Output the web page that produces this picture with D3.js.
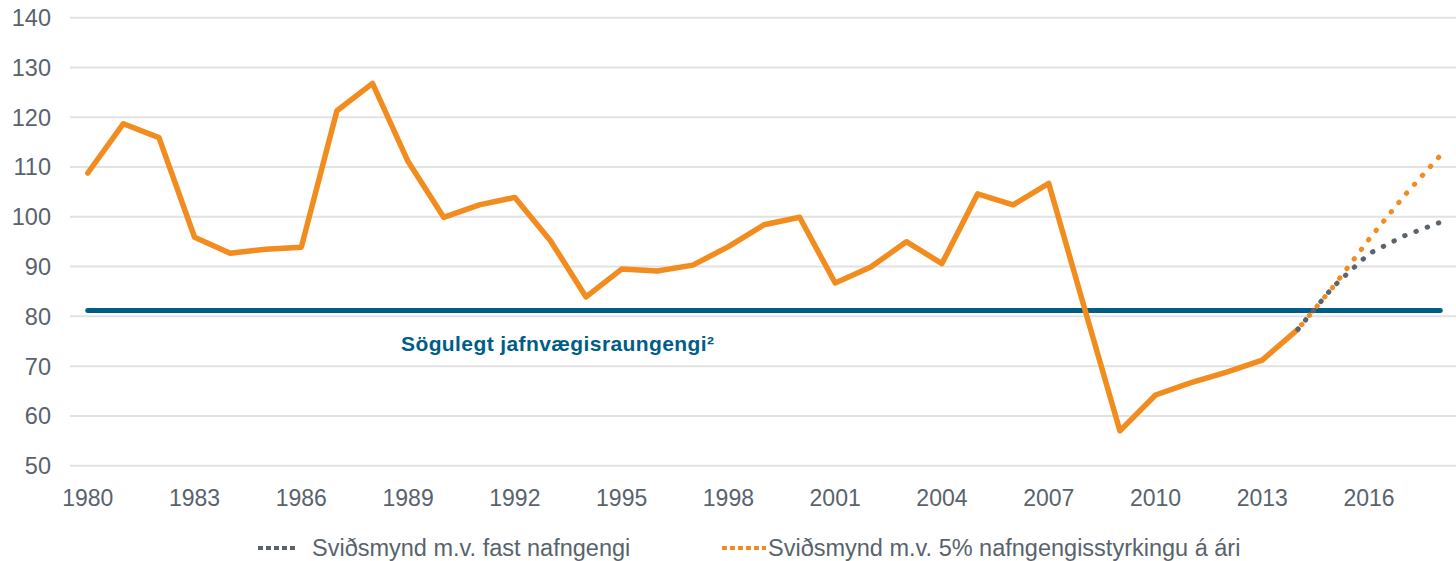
<!DOCTYPE html>
<html>
<head>
<meta charset="utf-8">
<script src="https://cdn.jsdelivr.net/npm/d3@7"></script>
<style>
  body { margin: 0; background: #fff; }
  svg { display: block; font-family: 'Liberation Sans', Arial, sans-serif; }
</style>
</head>
<body>
<div id="chart"></div>
<script>
// data
const years = d3.range(1980, 2019)
const histYears = d3.range(1980, 2015)
const histValues = [108.8, 118.7, 115.9, 95.9, 92.7, 93.5, 93.9, 121.3, 126.8, 111.1,
    99.9, 102.4, 103.9, 95.2, 83.9, 89.5, 89.1, 90.3, 94.0, 98.4,
    99.9, 86.7, 89.9, 95.0, 90.6, 104.6, 102.4, 106.7, 81.8, 57.0,
    64.2, 66.7, 68.8, 71.2, 77.4]
const scenYears = [2014, 2015, 2016, 2017, 2018]
const fixedValues = [77.4, 86.0, 92.6, 96.2, 98.9]
const strongValues = [77.4, 86.0, 95.5, 104.3, 112.3]
const equilibrium = 81.2
const yTicks = [50, 60, 70, 80, 90, 100, 110, 120, 130, 140]
const xTicks = d3.range(1980, 2017, 3)
const legendLabels = ['Sviðsmynd m.v. fast nafngengi', 'Sviðsmynd m.v. 5% nafngengisstyrkingu á ári']

const W = 1456, H = 561
const orange = '#f28c1f', blue = '#005d85', gray = '#5b646d', textCol = '#58636d'

const svg = d3.select('#chart').append('svg').attr('width', W).attr('height', H)

const x = d3.scalePoint().domain(years).range([70, 1458]).padding(0.5)
const y = d3.scaleLinear().domain([50, 140]).range([465.7, 17.7])

// grid
svg.append('g')
    .selectAll('line')
    .data(yTicks)
    .enter()
    .append('line')
    .attr('x1', 70).attr('x2', W)
    .attr('y1', d => y(d)).attr('y2', d => y(d))
    .attr('stroke', '#e2e2e2')
    .attr('stroke-width', 2)

// y labels
svg.append('g')
    .selectAll('text')
    .data(yTicks)
    .enter()
    .append('text')
    .attr('x', 51)
    .attr('y', d => y(d))
    .attr('dy', '0.36em')
    .attr('text-anchor', 'end')
    .attr('fill', textCol)
    .style('font-size', '23.5px')
    .text(d => d)

// x labels
svg.append('g')
    .selectAll('text')
    .data(xTicks)
    .enter()
    .append('text')
    .attr('x', d => x(d))
    .attr('y', 506)
    .attr('text-anchor', 'middle')
    .attr('fill', textCol)
    .style('font-size', '23px')
    .text(d => d)

const line = d3.line().x(d => x(d[0])).y(d => y(d[1]))

// equilibrium
svg.append('path')
    .attr('d', line([[1980, equilibrium], [2018, equilibrium]]))
    .attr('fill', 'none')
    .attr('stroke', blue)
    .attr('stroke-width', 5)
    .attr('stroke-linecap', 'round')

svg.append('text')
    .attr('x', 401)
    .attr('y', 351)
    .attr('fill', blue)
    .style('font-size', '21px')
    .style('font-weight', 'bold')
    .style('letter-spacing', '0.4px')
    .text('Sögulegt jafnvægisraungengi²')

// history
svg.append('path')
    .attr('d', line(histYears.map((yr, i) => [yr, histValues[i]])))
    .attr('fill', 'none')
    .attr('stroke', orange)
    .attr('stroke-width', 5.5)
    .attr('stroke-linejoin', 'round')
    .attr('stroke-linecap', 'round')

// scenarios
const scen = [
    { vals: fixedValues, col: gray, offset: 0 },
    { vals: strongValues, col: orange, offset: 6 }
]
scen.forEach(s => {
    svg.append('path')
        .attr('d', line(scenYears.map((yr, i) => [yr, s.vals[i]])))
        .attr('fill', 'none')
        .attr('stroke', s.col)
        .attr('stroke-width', 5)
        .attr('stroke-linecap', 'round')
        .attr('stroke-dasharray', '0.5 11.5')
        .attr('stroke-dashoffset', s.offset)
})

// legend
const legendPos = [{ x1: 258, x2: 298, tx: 312 }, { x1: 722, x2: 766, tx: 768 }]
legendLabels.forEach((lab, i) => {
    const p = legendPos[i]
    svg.append('line')
        .attr('x1', p.x1).attr('x2', p.x2)
        .attr('y1', 548).attr('y2', 548)
        .attr('stroke', scen[i].col)
        .attr('stroke-width', 4)
        .attr('stroke-dasharray', '5 3')
    svg.append('text')
        .attr('x', p.tx)
        .attr('y', 556)
        .attr('fill', textCol)
        .style('font-size', '23.5px')
        .text(lab)
})
</script>
</body>
</html>
